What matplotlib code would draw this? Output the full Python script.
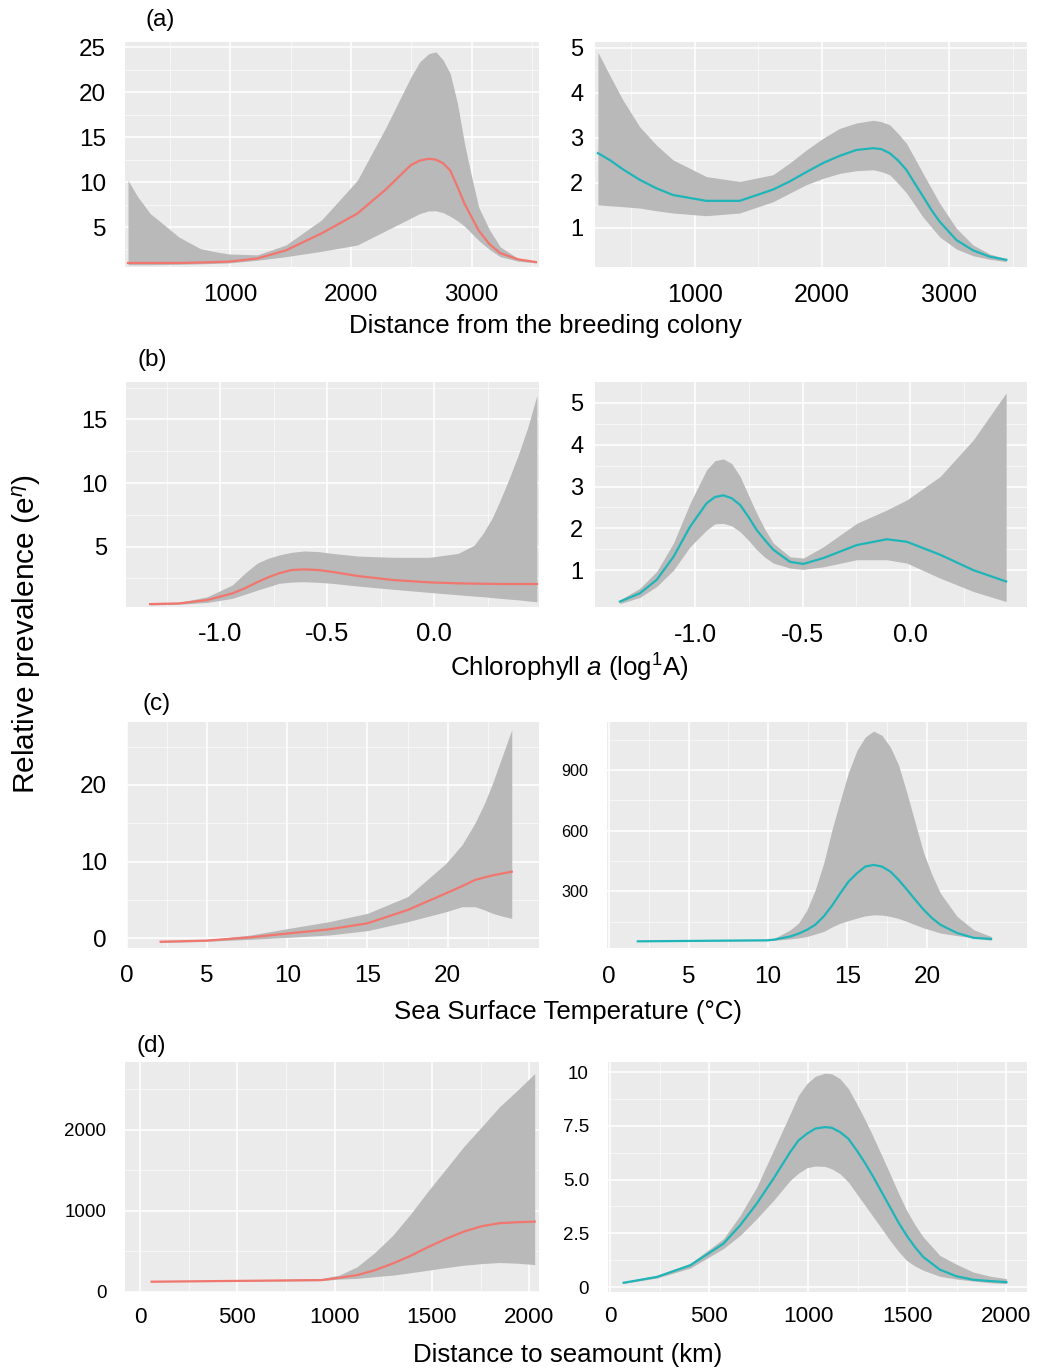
import matplotlib
matplotlib.use('Agg')
import matplotlib.pyplot as plt

plt.rcParams['font.family'] = ['Liberation Sans', 'DejaVu Sans']
plt.rcParams['mathtext.fontset'] = 'custom'
plt.rcParams['mathtext.rm'] = 'Liberation Sans'
plt.rcParams['mathtext.it'] = 'Liberation Sans:italic'

W, H = 1040, 1369
RED = '#F0766E'
TEAL = '#1FB5B8'
BAND = '#B9B9B9'

# (a) distance from the breeding colony
a1_x = [150, 229, 334, 436, 571, 749, 868, 986, 1223, 1460, 1757, 2053, 2290, 2497, 2571, 2645, 2705,
        2764, 2823, 2883, 2942, 3001, 3060, 3149, 3238, 3386, 3535]
a1_mid = [1.0, 1.0, 1.0, 1.0, 1.0, 1.05, 1.1, 1.15, 1.5, 2.4, 4.3, 6.5, 9.2, 11.9, 12.4, 12.6, 12.5,
          12.1, 11.3, 9.5, 7.6, 6.1, 4.6, 3.1, 2.1, 1.4, 1.1]
a1_hi = [10.2, 8.4, 6.5, 5.4, 3.9, 2.6, 2.26, 2.0, 1.9, 3.0, 5.8, 10.2, 16.1, 21.7, 23.4, 24.3, 24.5,
         23.6, 22.1, 18.8, 14.3, 10.6, 7.2, 4.7, 2.8, 1.5, 1.1]
a1_lo = [0.8, 0.8, 0.8, 0.82, 0.85, 0.9, 0.95, 1.0, 1.3, 1.7, 2.3, 3.0, 4.6, 6.0, 6.5, 6.8, 6.8,
         6.6, 6.2, 5.7, 5.1, 4.3, 3.5, 2.5, 1.7, 1.2, 1.0]

a2_x = [236, 333, 433, 564, 696, 827, 1089, 1352, 1614, 1745, 1877, 2008, 2139, 2270, 2402, 2467, 2533,
        2598, 2664, 2730, 2795, 2861, 2926, 3058, 3189, 3320, 3451]
a2_mid = [2.66, 2.5, 2.3, 2.07, 1.88, 1.73, 1.6, 1.6, 1.85, 2.03, 2.24, 2.44, 2.6, 2.73, 2.77, 2.75, 2.66,
          2.5, 2.29, 1.99, 1.7, 1.4, 1.14, 0.73, 0.5, 0.36, 0.29]
a2_hi = [4.9, 4.37, 3.84, 3.25, 2.84, 2.51, 2.14, 2.03, 2.18, 2.44, 2.73, 2.99, 3.21, 3.33, 3.39, 3.36, 3.29,
         3.1, 2.88, 2.55, 2.21, 1.88, 1.55, 0.99, 0.62, 0.42, 0.31]
a2_lo = [1.51, 1.49, 1.47, 1.44, 1.38, 1.33, 1.27, 1.33, 1.58, 1.77, 1.96, 2.1, 2.21, 2.27, 2.29, 2.25, 2.18,
         1.99, 1.78, 1.51, 1.24, 1.02, 0.8, 0.53, 0.38, 0.3, 0.25]

# (b) chlorophyll a
b1_x = [-1.327, -1.193, -1.06, -0.943, -0.885, -0.826, -0.776, -0.726, -0.667, -0.608, -0.54, -0.475,
        -0.357, -0.19, -0.022, 0.112, 0.187, 0.229, 0.27, 0.31, 0.352, 0.395, 0.438, 0.48]
b1_mid = [0.47, 0.52, 0.79, 1.31, 1.71, 2.2, 2.57, 2.89, 3.15, 3.2, 3.15, 3.0,
          2.68, 2.36, 2.18, 2.1, 2.08, 2.07, 2.06, 2.05, 2.05, 2.05, 2.05, 2.05]
b1_hi = [0.52, 0.6, 1.05, 1.97, 2.89, 3.7, 4.07, 4.33, 4.54, 4.65, 4.6, 4.46,
         4.25, 4.15, 4.15, 4.46, 5.1, 6.05, 7.2, 8.7, 10.4, 12.3, 14.4, 16.9]
b1_lo = [0.4, 0.45, 0.6, 0.92, 1.24, 1.57, 1.83, 2.1, 2.2, 2.23, 2.18, 2.1,
         1.89, 1.63, 1.39, 1.2, 1.1, 1.05, 0.98, 0.92, 0.86, 0.8, 0.72, 0.65]

b2_x = [-1.349, -1.256, -1.178, -1.1, -1.023, -0.946, -0.907, -0.868, -0.829, -0.79, -0.752, -0.713,
        -0.675, -0.636, -0.558, -0.496, -0.403, -0.248, -0.108, -0.015, 0.14, 0.295, 0.447]
b2_mid = [0.25, 0.45, 0.77, 1.32, 2.04, 2.6, 2.75, 2.79, 2.72, 2.56, 2.28, 1.96,
          1.72, 1.49, 1.2, 1.15, 1.29, 1.6, 1.74, 1.68, 1.37, 1.0, 0.73]
b2_hi = [0.29, 0.57, 0.97, 1.65, 2.6, 3.4, 3.62, 3.66, 3.55, 3.24, 2.8, 2.36,
         1.98, 1.65, 1.32, 1.29, 1.56, 2.12, 2.44, 2.68, 3.24, 4.12, 5.24]
b2_lo = [0.2, 0.35, 0.61, 1.0, 1.56, 1.96, 2.11, 2.12, 2.06, 1.92, 1.72, 1.49,
         1.31, 1.17, 1.05, 1.02, 1.08, 1.25, 1.25, 1.17, 0.81, 0.49, 0.25]

# (c) sea surface temperature
c1_x = [2.1, 4.9, 7.7, 10.1, 12.6, 15.0, 17.5, 19.9, 20.9, 21.7, 22.3, 22.8, 23.4, 24.0]
c1_mid = [-0.44, -0.3, 0.13, 0.65, 1.17, 1.96, 3.69, 5.87, 6.8, 7.6, 7.95, 8.2, 8.45, 8.69]
c1_hi = [-0.35, -0.2, 0.43, 1.3, 2.17, 3.26, 5.43, 9.78, 12.2, 15.0, 17.6, 20.2, 23.7, 27.2]
c1_lo = [-0.55, -0.4, -0.13, 0.13, 0.43, 1.0, 2.17, 3.47, 4.12, 4.12, 3.7, 3.26, 2.9, 2.6]

c2_x = [1.8, 9.93, 10.35, 11.4, 11.92, 12.45, 12.97, 13.5, 14.02, 14.55, 15.07, 15.6, 16.12, 16.65,
        17.17, 17.7, 18.22, 18.75, 19.27, 19.8, 20.32, 20.85, 21.9, 22.95, 24.04]
c2_mid = [52, 57, 60, 76, 90, 109, 134, 175, 228, 290, 348, 389, 422, 430,
          422, 397, 356, 307, 257, 208, 167, 134, 93, 69, 64]
c2_hi = [52, 57, 65, 109, 142, 208, 307, 438, 603, 750, 890, 997, 1063, 1092,
         1071, 1013, 923, 783, 636, 488, 381, 290, 175, 109, 76]
c2_lo = [52, 55, 57, 64, 69, 76, 88, 101, 123, 142, 155, 167, 178, 183,
         182, 175, 165, 150, 134, 118, 106, 93, 80, 69, 57]

# (d) distance to seamount
d1_x = [60, 931, 1023, 1115, 1206, 1298, 1390, 1481, 1573, 1665, 1757, 1848, 1940, 2028]
d1_mid = [122, 142, 171, 203, 264, 346, 441, 551, 652, 742, 808, 845, 857, 864]
d1_hi = [122, 160, 203, 306, 481, 693, 958, 1244, 1518, 1795, 2039, 2284, 2488, 2693]
d1_lo = [122, 135, 154, 163, 184, 203, 233, 264, 297, 326, 346, 359, 350, 334]

d2_x = [67, 235, 403, 571, 655, 739, 824, 908, 950, 992, 1034, 1084, 1118, 1160, 1202, 1244, 1286,
        1328, 1370, 1412, 1454, 1496, 1538, 1580, 1664, 1748, 1832, 1916, 2000]
d2_mid = [0.2, 0.47, 1.01, 2.02, 2.87, 3.88, 5.05, 6.28, 6.82, 7.13, 7.37, 7.44, 7.41, 7.21, 6.9, 6.36, 5.77,
          5.12, 4.42, 3.72, 3.02, 2.4, 1.86, 1.4, 0.81, 0.5, 0.34, 0.28, 0.23]
d2_hi = [0.25, 0.55, 1.1, 2.25, 3.33, 4.65, 6.36, 8.06, 8.92, 9.46, 9.8, 9.95, 9.92, 9.69, 9.23, 8.53, 7.79,
         6.98, 6.13, 5.27, 4.39, 3.57, 2.9, 2.33, 1.47, 1.06, 0.7, 0.51, 0.39]
d2_lo = [0.17, 0.42, 0.88, 1.79, 2.4, 3.18, 4.03, 4.96, 5.3, 5.55, 5.63, 5.61, 5.5, 5.27, 4.88, 4.34, 3.8,
         3.26, 2.72, 2.17, 1.67, 1.24, 0.98, 0.78, 0.5, 0.37, 0.28, 0.2, 0.16]


fig = plt.figure(figsize=(W / 100, H / 100), dpi=100)


def panel(box, x, mid, lo, hi, color, xlim, ylim, xt, xlab, xminor, yt, ylab, yminor,
          xfs, yfs, xpad, ypad):
    x0, y0, x1, y1 = box
    ax = fig.add_axes([x0 / W, 1 - y1 / H, (x1 - x0) / W, (y1 - y0) / H])
    ax.set_facecolor('#EBEBEB')
    for s in ax.spines.values():
        s.set_visible(False)
    ax.fill_between(x, lo, hi, color=BAND, lw=0, zorder=2)
    ax.plot(x, mid, color=color, lw=1.6, zorder=3, solid_joinstyle='round')
    ax.set_xlim(*xlim)
    ax.set_ylim(*ylim)
    ax.set_xticks(xt)
    ax.set_xticklabels(xlab)
    ax.set_xticks(xminor, minor=True)
    ax.set_yticks(yt)
    ax.set_yticklabels(ylab)
    ax.set_yticks(yminor, minor=True)
    ax.grid(which='major', color='white', lw=1.1, zorder=0)
    ax.grid(which='minor', color='white', lw=0.5, alpha=0.8, zorder=0)
    ax.set_axisbelow(True)
    ax.tick_params(which='both', length=0)
    ax.tick_params(axis='x', labelsize=xfs, pad=xpad)
    ax.tick_params(axis='y', labelsize=yfs, pad=ypad)
    return ax


dist_t = [1000, 2000, 3000]
dist_l = ['1000', '2000', '3000']
chl_t = [-1.0, -0.5, 0.0]
chl_l = ['-1.0', '-0.5', '0.0']
sst_t = [0, 5, 10, 15, 20]
sst_l = ['0', '5', '10', '15', '20']
sea_t = [0, 500, 1000, 1500, 2000]
sea_l = ['0', '500', '1000', '1500', '2000']

# row (a)
panel((125, 42, 539, 267), a1_x, a1_mid, a1_lo, a1_hi, RED,
      (125, 3560), (0.55, 25.6), dist_t, dist_l, [500, 1500, 2500, 3500],
      [5, 10, 15, 20, 25], ['5', '10', '15', '20', '25'], [2.5, 7.5, 12.5, 17.5, 22.5],
      17.5, 17.5, 12.3, 13.5)
panel((595, 42, 1027, 267), a2_x, a2_mid, a2_lo, a2_hi, TEAL,
      (213, 3614), (0.13, 5.13), dist_t, dist_l, [500, 1500, 2500, 3500],
      [1, 2, 3, 4, 5], ['1', '2', '3', '4', '5'], [1.5, 2.5, 3.5, 4.5],
      18, 17, 11.7, 8.5)

# row (b)
panel((126, 382, 539, 607), b1_x, b1_mid, b1_lo, b1_hi, RED,
      (-1.44, 0.49), (0.24, 17.95), chl_t, chl_l, [-1.25, -0.75, -0.25, 0.25],
      [5, 10, 15], ['5', '10', '15'], [2.5, 7.5, 12.5, 17.5],
      18.5, 17, 10.5, 13.5)
panel((595, 382, 1027, 607), b2_x, b2_mid, b2_lo, b2_hi, TEAL,
      (-1.465, 0.544), (0.12, 5.5), chl_t, chl_l, [-1.25, -0.75, -0.25, 0.25],
      [1, 2, 3, 4, 5], ['1', '2', '3', '4', '5'], [1.5, 2.5, 3.5, 4.5],
      18, 17, 11.7, 8.5)

# row (c)
panel((127, 722, 539, 948), c1_x, c1_mid, c1_lo, c1_hi, RED,
      (0, 25.7), (-1.26, 28.2), sst_t, sst_l, [2.5, 7.5, 12.5, 17.5, 22.5],
      [0, 10, 20], ['0', '10', '20'], [5, 15, 25],
      17.5, 17.5, 12, 14.4)
panel((607, 722, 1027, 948), c2_x, c2_mid, c2_lo, c2_hi, TEAL,
      (-0.14, 26.3), (19, 1137), sst_t, sst_l, [2.5, 7.5, 12.5, 17.5, 22.5],
      [300, 600, 900], ['300', '600', '900'], [150, 450, 750, 1050],
      17.5, 11.7, 13, 13.7)

# row (d)
panel((125, 1062, 539, 1292), d1_x, d1_mid, d1_lo, d1_hi, RED,
      (-77, 2050), (-5, 2835), sea_t, sea_l, [250, 750, 1250, 1750],
      [0, 1000, 2000], ['0', '1000', '2000'], [500, 1500, 2500],
      16.2, 13.5, 11, 13.4)
panel((608, 1062, 1027, 1292), d2_x, d2_mid, d2_lo, d2_hi, TEAL,
      (-12, 2104), (-0.23, 10.47), sea_t, sea_l, [250, 750, 1250, 1750],
      [0, 2.5, 5, 7.5, 10], ['0', '2.5', '5.0', '7.5', '10'], [1.25, 3.75, 6.25, 8.75],
      16.2, 13.5, 10, 13.7)


def ftext(x, y, s, **kw):
    fig.text(x / W, 1 - y / H, s, **kw)


ftext(160, 20, '(a)', fontsize=17.5, ha='center', va='center')
ftext(152, 360, '(b)', fontsize=17.5, ha='center', va='center')
ftext(157, 704, '(c)', fontsize=17.5, ha='center', va='center')
ftext(151, 1046, '(d)', fontsize=17.5, ha='center', va='center')

ftext(545, 326, 'Distance from the breeding colony', fontsize=18.6, ha='center', va='center')
ftext(569, 668, 'Chlorophyll $a$ (log$^{1}$A)', fontsize=18.6, ha='center', va='center')
ftext(568, 1012, 'Sea Surface Temperature (°C)', fontsize=18.6, ha='center', va='center')
ftext(568, 1355, 'Distance to seamount (km)', fontsize=18.6, ha='center', va='center')
ftext(27, 634, 'Relative prevalence (e$^{\\eta}$)', fontsize=21.5, ha='center', va='center', rotation=90)

fig.savefig('out.png', dpi=100)
